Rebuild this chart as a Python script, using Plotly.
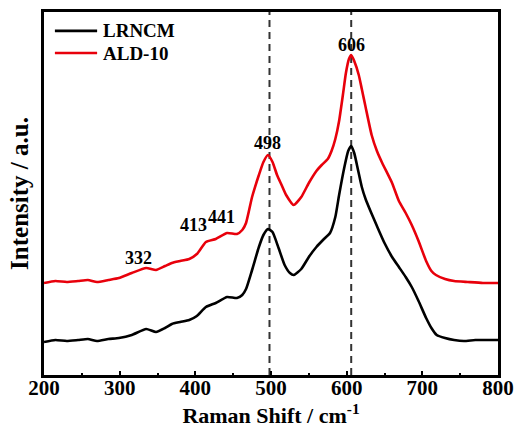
import plotly.graph_objects as go

shift_black = [200, 215, 230, 245, 258, 270, 285, 299, 316, 335, 348, 360, 369, 380, 392, 402, 414, 427, 442, 455,
               462, 467, 475, 484, 490, 496, 502, 510, 518, 525, 530, 540, 550, 560, 570, 578, 585, 590, 597, 602,
               606, 610, 615, 620, 625, 632, 640, 650, 660, 669, 678, 686, 695, 705, 712, 719, 730, 742, 755, 770,
               785, 800]
int_black = [33, 35, 34, 35, 36, 34, 36, 37, 40, 46, 43, 47, 51, 53, 55, 59, 68, 72, 78, 77,
             80, 86, 105, 128, 140, 146, 143, 127, 110, 102, 100, 106, 118, 128, 136, 142, 158, 180, 208, 224,
             229, 222, 205, 188, 176, 163, 149, 132, 118, 108, 98, 88, 74, 57, 47, 40, 37, 35, 34, 35,
             35, 35]

shift_red = [200, 215, 230, 245, 258, 270, 285, 299, 316, 335, 348, 360, 369, 380, 392, 402, 414, 427, 442, 455,
             462, 467, 475, 484, 490, 496, 502, 508, 514, 520, 530, 540, 550, 560, 567, 575, 580, 585, 590, 595,
             599, 603, 606, 610, 616, 620, 625, 633, 640, 647, 660, 669, 678, 686, 695, 705, 712, 718, 730, 742,
             760, 780, 800]
int_red = [92, 94, 93, 94, 95, 93, 95, 97, 102, 107, 105, 109, 112, 114, 116, 121, 133, 136, 142, 141,
           145, 152, 178, 200, 213, 220, 213, 200, 190, 180, 170, 178, 192, 204, 210, 216, 224, 236, 254, 280,
           302, 316, 320, 314, 300, 286, 268, 240, 224, 212, 192, 174, 162, 150, 134, 114, 104, 100, 96, 94,
           93, 92, 92]

series_names = ["LRNCM", "ALD-10"]
series_colors = ["black", "#e8000b"]

peak_lines = [498, 606]
peak_labels = ["332", "413", "441", "498", "606"]
label_x = [325, 398, 434, 495, 606]
label_y = [117, 150, 158, 232, 330]

font_family = "Liberation Serif, Times New Roman, serif"

fig = go.Figure()
for name, color, xs, ys in zip(series_names, series_colors, [shift_black, shift_red], [int_black, int_red]):
    fig.add_trace(go.Scatter(x=xs, y=ys, mode="lines", name=name, showlegend=False,
                             line=dict(color=color, width=2.6, shape="spline", smoothing=0.5)))

for px in peak_lines:
    fig.add_shape(type="line", x0=px, x1=px, y0=0, y1=1, yref="paper", xref="x",
                  line=dict(color="#333333", width=2, dash="7px,5px"), layer="below")

for t, xv, yv in zip(peak_labels, label_x, label_y):
    fig.add_annotation(x=xv, y=yv, text=t, showarrow=False,
                       font=dict(family=font_family, size=18, color="black", weight="bold"))

# legend drawn in paper coordinates
legend_y = [0.948, 0.887]
for name, color, ly in zip(series_names, series_colors, legend_y):
    fig.add_shape(type="line", xref="paper", yref="paper", x0=0.024, x1=0.117, y0=ly, y1=ly,
                  line=dict(color=color, width=2.6))
    fig.add_annotation(xref="paper", yref="paper", x=0.126, y=ly, text=name, showarrow=False,
                       xanchor="left", yanchor="middle",
                       font=dict(family=font_family, size=19, color="black", weight="bold"))

fig.update_layout(
    width=515, height=432,
    margin=dict(l=44, r=17, t=12, b=57, autoexpand=False),
    paper_bgcolor="white", plot_bgcolor="white",
    font=dict(family=font_family, color="black"),
    showlegend=False,
    xaxis=dict(range=[200, 800], tickvals=[200, 300, 400, 500, 600, 700, 800],
               showline=True, linecolor="black", linewidth=3, mirror=True,
               ticks="inside", ticklen=4, tickwidth=2, tickcolor="black",
               minor=dict(ticks="inside", ticklen=2, tickwidth=2, dtick=50, tickcolor="black"),
               showgrid=False, zeroline=False, automargin=False,
               ticklabelstandoff=-8,
               tickfont=dict(family=font_family, size=21, color="black", weight="bold"),
               title=dict(text="Raman Shift / cm<sup>-1</sup>", standoff=2,
                          font=dict(family=font_family, size=22, color="black", weight="bold"))),
    yaxis=dict(range=[0, 363], showticklabels=False, ticks="",
               showline=True, linecolor="black", linewidth=3, mirror=True,
               showgrid=False, zeroline=False, automargin=False,
               title=dict(text="Intensity / a.u.", standoff=6,
                          font=dict(family=font_family, size=25, color="black", weight="bold"))),
)

fig.write_html("out.html")
